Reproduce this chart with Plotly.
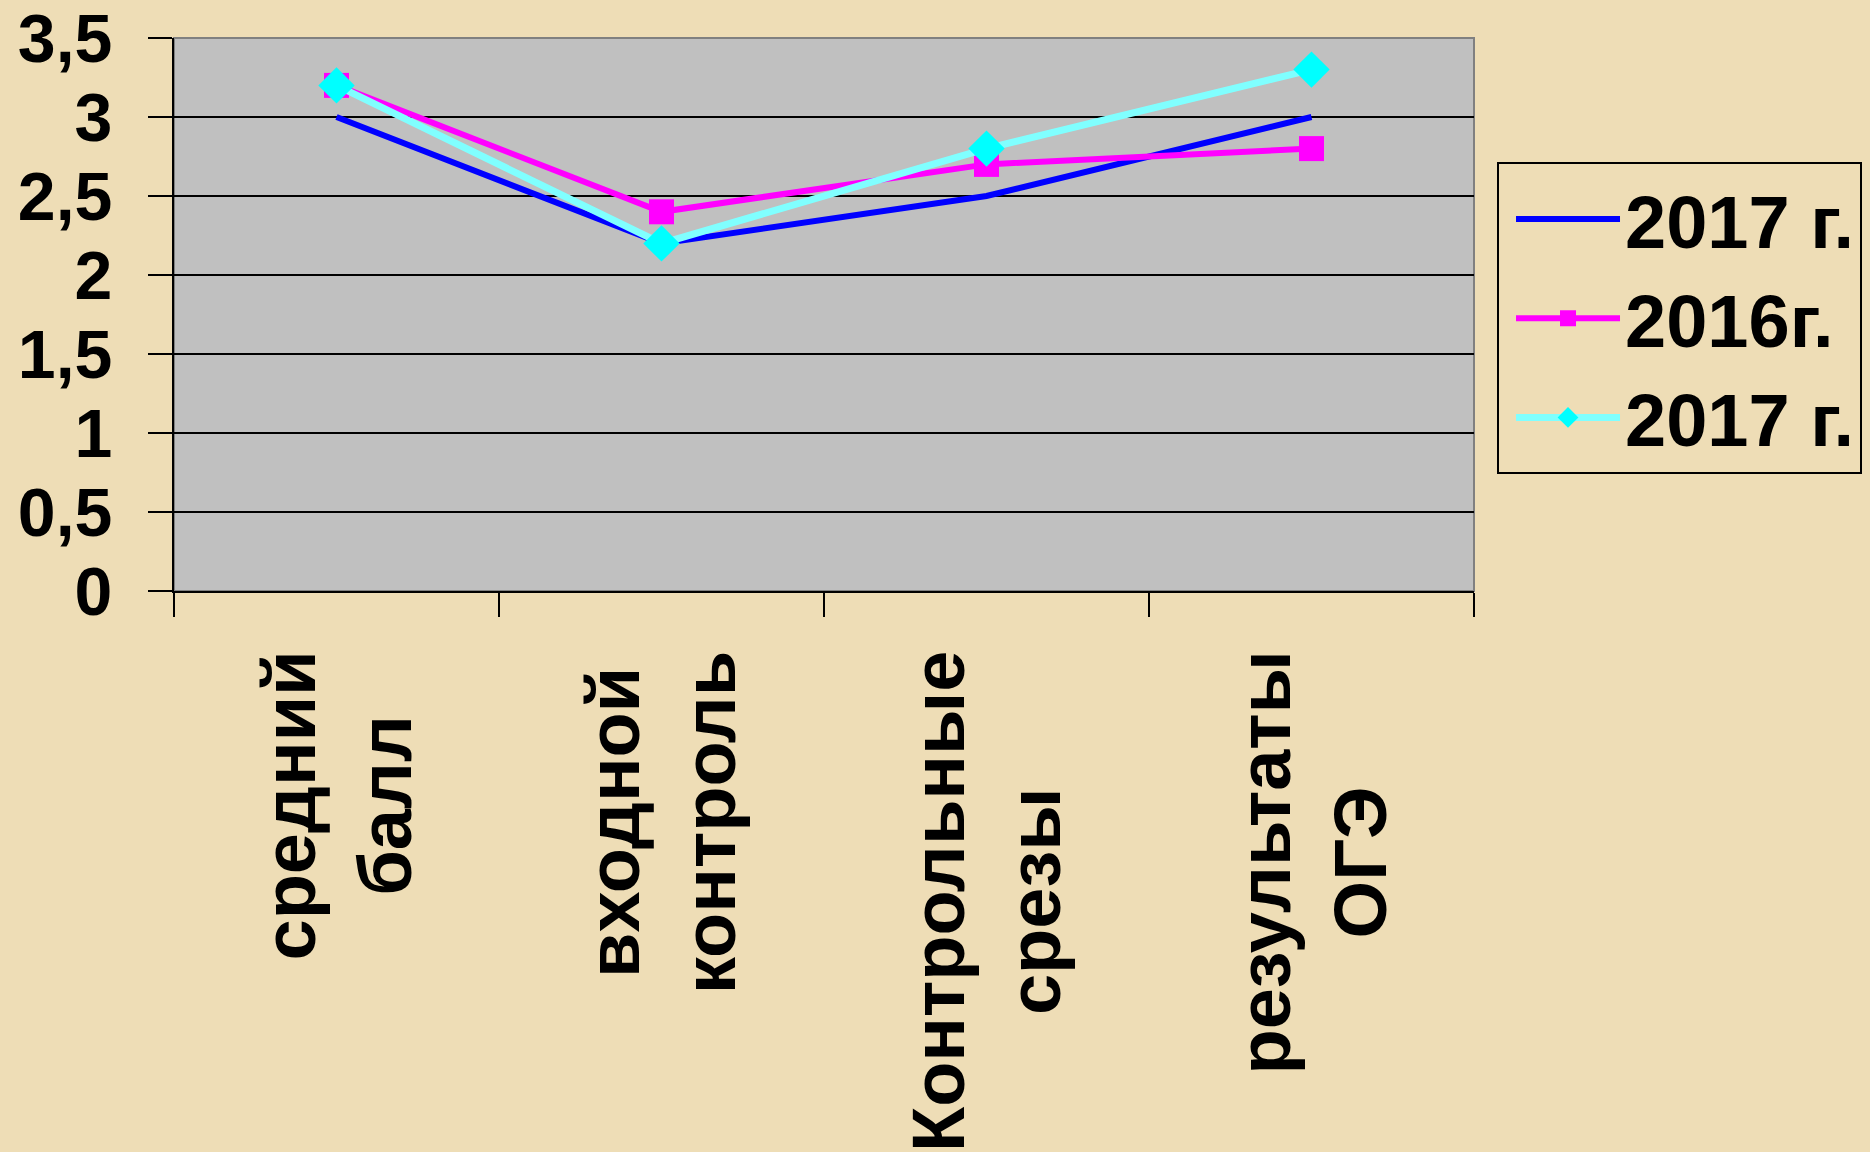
import plotly.graph_objects as go

categories = ["средний<br>балл", "входной<br>контроль", "Контрольные<br>срезы", "результаты<br>ОГЭ"]
series_names = ["2017 г.", "2016г.", "2017 г."]
blue_2017 = [3.0, 2.2, 2.5, 3.0]
magenta_2016 = [3.2, 2.4, 2.7, 2.8]
cyan_2017 = [3.2, 2.2, 2.8, 3.3]
y_tick_values = [0, 0.5, 1, 1.5, 2, 2.5, 3, 3.5]
y_tick_labels = ["0", "0,5", "1", "1,5", "2", "2,5", "3", "3,5"]

FONT = "Liberation Sans, Arial, sans-serif"

fig = go.Figure()
fig.add_trace(go.Scatter(
    x=categories, y=blue_2017, name=series_names[0], mode="lines",
    line=dict(color="#0000FF", width=6), legendgroup="a"))
fig.add_trace(go.Scatter(
    x=categories, y=magenta_2016, name=series_names[1], mode="lines+markers",
    line=dict(color="#FF00FF", width=6),
    marker=dict(symbol="square", size=25, color="#FF00FF"), legendgroup="b"))
fig.add_trace(go.Scatter(
    x=categories, y=cyan_2017, name=series_names[2], mode="lines+markers",
    line=dict(color="#80FFFF", width=7),
    marker=dict(symbol="diamond", size=28, color="#00FFFF"), legendgroup="c"))

fig.add_shape(type="rect", xref="paper", yref="paper", x0=0, x1=1, y0=0, y1=1,
              line=dict(color="#808080", width=2), layer="below")

# category labels (rotated, lines centred like the original)
for cat in categories:
    fig.add_annotation(
        x=cat, xref="x", y=0, yref="paper", yanchor="top", yshift=-58,
        text=cat, textangle=-90, align="center", showarrow=False,
        font=dict(family=FONT, size=74, color="black", weight="bold"),
    )

fig.update_layout(
    width=1870, height=1152,
    margin=dict(l=174, r=396, t=38, b=561, autoexpand=False),
    paper_bgcolor="#EEDDB6",
    plot_bgcolor="#C0C0C0",
    font=dict(family=FONT, size=70, color="black"),
    showlegend=True,
    legend=dict(
        x=1.0177, y=0.775, xanchor="left", yanchor="top",
        bgcolor="rgba(0,0,0,0)", bordercolor="black", borderwidth=2,
        font=dict(family=FONT, size=74, color="black", weight="bold"),
        itemwidth=104, tracegroupgap=0, indentation=12,
    ),
)
fig.update_xaxes(
    type="category", range=[-0.5, 3.5],
    showgrid=False, zeroline=False,
    showline=True, linecolor="black", linewidth=2,
    ticks="outside", tickson="boundaries", ticklen=24, tickwidth=2, tickcolor="black",
    showticklabels=False,
)
fig.update_yaxes(
    range=[0, 3.5], tickvals=y_tick_values, ticktext=y_tick_labels,
    showgrid=True, gridcolor="black", gridwidth=2,
    zeroline=False,
    showline=True, linecolor="black", linewidth=2,
    ticks="outside", ticklen=24, tickwidth=2, tickcolor="black",
    tickfont=dict(family=FONT, size=68, color="black", weight="bold"),
    ticklabelstandoff=22, ticklabeloverflow="allow",
)

fig.write_html("out.html", config={"displayModeBar": False},
               post_script="document.body.style.margin='0';document.body.style.overflow='hidden';")
